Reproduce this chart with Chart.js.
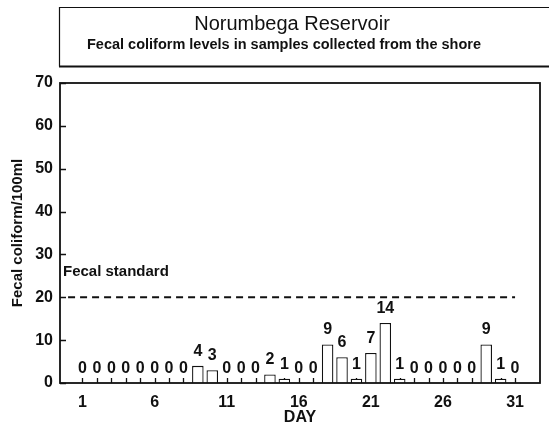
<!DOCTYPE html>
<html><head><meta charset="utf-8">
<script src="https://cdn.jsdelivr.net/npm/chart.js@4.4.0/dist/chart.umd.min.js"></script>
<style>html,body{margin:0;padding:0;background:#fff}#wrap{width:549px;height:426px}</style>
</head><body><div id="wrap"><canvas id="c" width="549" height="426"></canvas></div>
<script>
const days = [1,2,3,4,5,6,7,8,9,10,11,12,13,14,15,16,17,18,19,20,21,22,23,24,25,26,27,28,29,30,31];
const fecalColiform = [0,0,0,0,0,0,0,0,4,3,0,0,0,2,1,0,0,9,6,1,7,14,1,0,0,0,0,0,9,1,0];
const fecalStandard = 20;
const standardSpan = [0, 31];
const xTickLabels = [1,6,11,16,21,26,31];
const yTicks = [0,10,20,30,40,50,60,70];
const titleText = 'Norumbega Reservoir';
const subtitleText = 'Fecal coliform levels in samples collected from the shore';
const standardText = 'Fecal standard';

const FAM = '"Liberation Sans", Arial, Helvetica, sans-serif';
const INK = '#111';

const deco = {
  id: 'deco',
  beforeDraw(chart) {
    const ctx = chart.ctx;
    ctx.save();
    ctx.fillStyle = '#fff';
    ctx.fillRect(0, 0, chart.width, chart.height);
    ctx.strokeStyle = INK;
    ctx.lineWidth = 1.2;
    ctx.beginPath();
    ctx.moveTo(560, 7.5); ctx.lineTo(59.5, 7.5); ctx.lineTo(59.5, 66.5);
    ctx.stroke();
    ctx.lineWidth = 2.2;
    ctx.beginPath();
    ctx.moveTo(59, 66.5); ctx.lineTo(560, 66.5);
    ctx.stroke();
    ctx.fillStyle = INK;
    ctx.textAlign = 'center';
    ctx.textBaseline = 'alphabetic';
    ctx.font = '20px ' + FAM;
    ctx.fillText(titleText, 292, 30);
    ctx.font = 'bold 14.5px ' + FAM;
    ctx.fillText(subtitleText, 284, 49);
    ctx.restore();
  },
  beforeDatasetsDraw(chart) {
    const ctx = chart.ctx;
    const a = chart.chartArea;
    const xs = chart.scales.x, ys = chart.scales.y;
    ctx.save();
    ctx.strokeStyle = INK;
    ctx.lineWidth = 1.3;
    ctx.beginPath();
    days.forEach(d => {
      const x = Math.round(xs.getPixelForValue(d)) + 0.5;
      ctx.moveTo(x, a.bottom); ctx.lineTo(x, a.bottom - 5);
    });
    yTicks.forEach(v => {
      const y = Math.round(ys.getPixelForValue(v)) + 0.5;
      ctx.moveTo(a.left, y); ctx.lineTo(a.left + 6, y);
    });
    ctx.stroke();
    ctx.restore();
  },
  afterDraw(chart) {
    const ctx = chart.ctx;
    const a = chart.chartArea;
    const ys = chart.scales.y;
    ctx.save();
    ctx.strokeStyle = INK;
    ctx.lineWidth = 1.8;
    ctx.strokeRect(a.left, a.top, a.right - a.left, a.bottom - a.top);
    ctx.fillStyle = INK;
    ctx.font = 'bold 16px ' + FAM;
    ctx.textAlign = 'center';
    ctx.textBaseline = 'alphabetic';
    const meta = chart.getDatasetMeta(0);
    meta.data.forEach((el, i) => {
      ctx.fillText(String(fecalColiform[i]), el.x, el.y - 10);
    });
    ctx.font = 'bold 15px ' + FAM;
    ctx.textAlign = 'left';
    ctx.fillText(standardText, a.left + 3, ys.getPixelForValue(fecalStandard) - 21);
    ctx.restore();
  }
};

new Chart(document.getElementById('c'), {
  type: 'bar',
  data: {
    datasets: [{
      data: days.map((d, i) => ({x: d, y: fecalColiform[i]})),
      backgroundColor: '#fff',
      borderColor: INK,
      borderWidth: 1.3,
      categoryPercentage: 1,
      barPercentage: 0.8
    }, {
      type: 'line',
      data: standardSpan.map(x => ({x: x, y: fecalStandard})),
      borderColor: INK,
      borderWidth: 2,
      borderDash: [7, 5],
      pointRadius: 0,
      fill: false
    }]
  },
  plugins: [deco],
  options: {
    responsive: false,
    animation: false,
    devicePixelRatio: 1,
    layout: {padding: {top: 83, right: 9, left: 0, bottom: 0}},
    plugins: {legend: {display: false}, tooltip: {enabled: false}},
    scales: {
      x: {
        type: 'linear', min: -0.56, max: 32.73, offset: false,
        grid: {display: false, drawTicks: false},
        border: {display: false},
        ticks: {
          stepSize: 1, autoSkip: false, includeBounds: false, maxRotation: 0, padding: 10,
          color: INK, font: {family: FAM, size: 16, weight: 'bold'},
          callback: v => xTickLabels.includes(v) ? String(v) : ''
        },
        title: {display: true, text: 'DAY', color: INK, font: {family: FAM, size: 16, weight: 'bold'}, padding: {top: 0, bottom: -1}},
        afterFit: s => { s.height = 43; }
      },
      y: {
        min: 0, max: 70,
        grid: {display: false, drawTicks: false},
        border: {display: false},
        ticks: {stepSize: 10, padding: 7, color: INK, font: {family: FAM, size: 16, weight: 'bold'}},
        title: {display: true, text: 'Fecal coliform/100ml', color: INK, font: {family: FAM, size: 15, weight: 'bold'}, padding: {top: 9, bottom: 0}},
        afterFit: s => { s.width = 60; }
      }
    }
  }
});
</script></body></html>
